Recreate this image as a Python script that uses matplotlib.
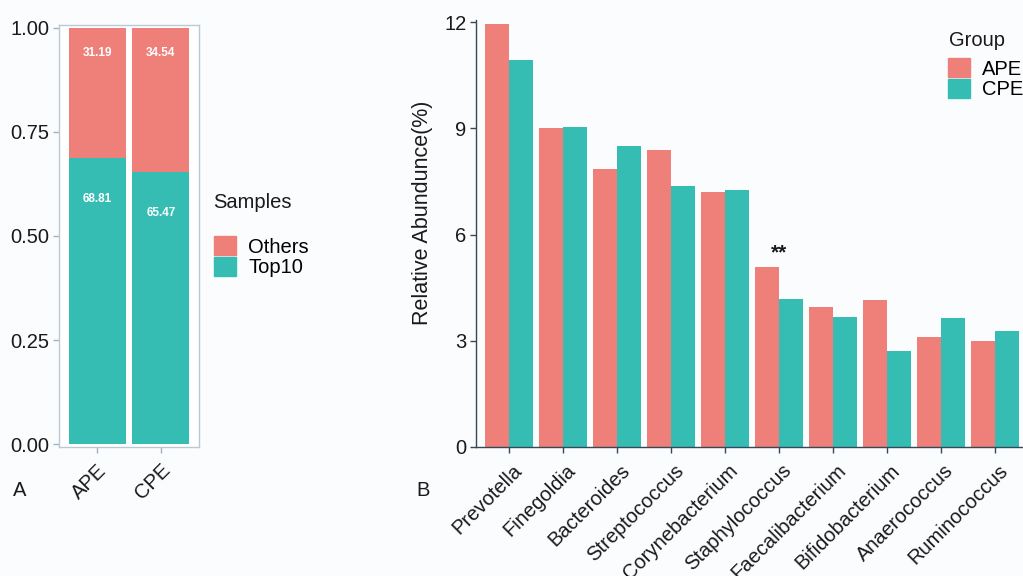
import matplotlib
matplotlib.use('Agg')
import matplotlib.pyplot as plt
import matplotlib.transforms as mtransforms
from matplotlib.patches import Patch
import numpy as np

plt.rcParams['font.family'] = ['Liberation Sans', 'DejaVu Sans']

# Panel A data: proportion of reads in top 10 genera vs others
samples = ['APE', 'CPE']
top10 = [0.6881, 0.6547]
others = [0.3119, 0.3454]

# Panel B data: relative abundance (%) of the top 10 genera
genera = ['Prevotella', 'Finegoldia', 'Bacteroides', 'Streptococcus', 'Corynebacterium',
          'Staphylococcus', 'Faecalibacterium', 'Bifidobacterium', 'Anaerococcus', 'Ruminococcus']
ape = [11.95, 9.02, 7.84, 8.39, 7.20, 5.09, 3.96, 4.15, 3.10, 2.99]
cpe = [10.92, 9.05, 8.51, 7.36, 7.27, 4.17, 3.66, 2.72, 3.64, 3.27]
yticks_b = [0, 3, 6, 9, 12]

red = '#EF7F79'
teal = '#35BDB3'
bg = '#FBFCFE'
txt = '#1a1a1a'
fs = 14.5

W, H = 1023, 576
fig = plt.figure(figsize=(W / 100, H / 100), dpi=100, facecolor=bg)

def px(x0, y_top, x1, y_bot):
    return [x0 / W, 1 - y_bot / H, (x1 - x0) / W, (y_bot - y_top) / H]

# ---------- Panel A ----------
axA = fig.add_axes(px(59, 25, 199, 447))
axA.set_facecolor('white')
xa = np.arange(len(samples))
axA.bar(xa, top10, width=0.9, color=teal)
axA.bar(xa, others, width=0.9, bottom=top10, color=red)
for i in range(len(samples)):
    axA.text(xa[i], 1 - 0.06, f'{others[i] * 100:.2f}', ha='center', va='center',
             color='white', fontsize=8.5, fontweight='bold')
    axA.text(xa[i], top10[i] - 0.10, f'{top10[i] * 100:.2f}', ha='center', va='center',
             color='white', fontsize=8.5, fontweight='bold')
axA.set_xlim(-0.6, 1.6)
axA.set_ylim(-0.007, 1.007)
axA.set_yticks([0, 0.25, 0.5, 0.75, 1.0])
axA.set_yticklabels(['0.00', '0.25', '0.50', '0.75', '1.00'])
axA.set_xticks(xa)
axA.set_xticklabels(samples, rotation=45, ha='right', va='top', rotation_mode='anchor')
for sp in axA.spines.values():
    sp.set_color('#b9c9d6')
    sp.set_linewidth(1.0)
axA.tick_params(colors='#9fb3c2', labelcolor=txt, labelsize=fs, length=4, width=1, pad=3)
offA = mtransforms.ScaledTranslation(0 / 100, -4 / 100, fig.dpi_scale_trans)
for lab in axA.get_xticklabels():
    lab.set_transform(lab.get_transform() + offA)

fig.text(213 / W, 1 - 203 / H, 'Samples', fontsize=fs, color=txt, ha='left', va='center')
fig.legend([Patch(color=red), Patch(color=teal)], ['Others', 'Top10'],
           loc='upper left', bbox_to_anchor=(214 / W, 1 - 236 / H), frameon=False,
           fontsize=fs, borderpad=0, borderaxespad=0, handlelength=1.1, handleheight=1.1,
           labelspacing=0.0, handletextpad=0.6)

# ---------- Panel B ----------
axB = fig.add_axes(px(476, 20, 1028, 447))
axB.set_facecolor(bg)
xb = np.arange(len(genera))
bw = 0.44
axB.bar(xb - bw / 2, ape, width=bw, color=red, label='APE')
axB.bar(xb + bw / 2, cpe, width=bw, color=teal, label='CPE')
axB.text(xb[5], 5.48, '**', ha='center', va='center', fontsize=15, fontweight='bold', color=txt)
axB.set_xlim(-0.61, 9.61)
axB.set_ylim(0, 12.06)
axB.set_yticks(yticks_b)
axB.set_xticks(xb)
axB.set_xticklabels(genera, rotation=45, ha='right', va='top', rotation_mode='anchor')
axB.spines['top'].set_visible(False)
axB.spines['right'].set_visible(False)
for s in ['left', 'bottom']:
    axB.spines[s].set_color('#34495a')
    axB.spines[s].set_linewidth(1.0)
axB.tick_params(colors='#34495a', labelcolor=txt, labelsize=fs, length=4, width=1, pad=3)
offB = mtransforms.ScaledTranslation(3 / 100, -4 / 100, fig.dpi_scale_trans)
for lab in axB.get_xticklabels():
    lab.set_transform(lab.get_transform() + offB)
axB.set_ylabel('Relative Abundunce(%)', fontsize=15.5, color=txt)
axB.yaxis.set_label_coords(-0.078, 0.548)

fig.text(949 / W, 1 - 40 / H, 'Group', fontsize=fs, color=txt, ha='left', va='center')
fig.legend([Patch(color=red), Patch(color=teal)], ['APE', 'CPE'],
           loc='upper left', bbox_to_anchor=(948 / W, 1 - 58 / H), frameon=False,
           fontsize=fs, borderpad=0, borderaxespad=0, handlelength=1.1, handleheight=1.1,
           labelspacing=0.0, handletextpad=0.6)

fig.text(13 / W, 1 - 491 / H, 'A', fontsize=fs, color=txt, ha='left', va='center')
fig.text(416 / W, 1 - 491 / H, 'B', fontsize=fs, color=txt, ha='left', va='center')

fig.savefig('out.png', dpi=100, facecolor=bg)
